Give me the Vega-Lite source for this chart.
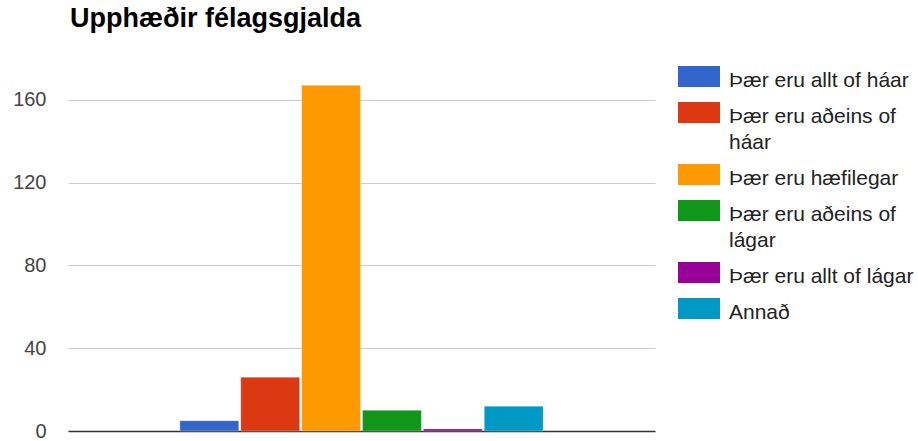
{
  "$schema": "https://vega.github.io/schema/vega-lite/v6.json",
  "width": 587,
  "height": 352,
  "autosize": {"type": "none"},
  "padding": {"left": 68, "top": 79, "right": 263, "bottom": 10},
  "background": "white",
  "config": {
    "view": {"stroke": null},
    "style": {"guide-label": {"dy": -6.5, "lineHeight": 26}}
  },
  "title": {
    "text": "Upphæðir félagsgjalda",
    "anchor": "start",
    "frame": "group",
    "font": "Liberation Sans",
    "fontSize": 27,
    "fontWeight": "bold",
    "color": "#000000",
    "baseline": "bottom",
    "offset": 25,
    "dy": 29.5,
    "dx": 2
  },
  "data": {
    "values": [
      {"hopur": "", "svar": "Þær eru allt of háar", "fjoldi": 5},
      {"hopur": "", "svar": "Þær eru aðeins of háar", "fjoldi": 26},
      {"hopur": "", "svar": "Þær eru hæfilegar", "fjoldi": 167},
      {"hopur": "", "svar": "Þær eru aðeins of lágar", "fjoldi": 10},
      {"hopur": "", "svar": "Þær eru allt of lágar", "fjoldi": 1},
      {"hopur": "", "svar": "Annað", "fjoldi": 12}
    ]
  },
  "mark": {"type": "bar", "stroke": "white", "strokeWidth": 0.5, "strokeOpacity": 0.6},
  "encoding": {
    "x": {
      "field": "hopur",
      "type": "nominal",
      "scale": {"paddingInner": 0, "paddingOuter": 0.308},
      "axis": {"labels": false, "ticks": false, "title": null, "domain": true, "domainColor": "#333333", "domainWidth": 1.5, "grid": false}
    },
    "xOffset": {
      "field": "svar",
      "type": "nominal",
      "sort": null,
      "scale": {"paddingInner": 0.033, "paddingOuter": 0}
    },
    "y": {
      "field": "fjoldi",
      "type": "quantitative",
      "scale": {"domain": [0, 170], "nice": false},
      "axis": {
        "title": null,
        "values": [0, 40, 80, 120, 160],
        "grid": true,
        "gridColor": "#cccccc",
        "domain": false,
        "ticks": false,
        "labelFont": "Liberation Sans",
        "labelFontSize": 20,
        "labelColor": "#444444",
        "labelPadding": 22,
        "labelOffset": 6.5
      }
    },
    "color": {
      "field": "svar",
      "type": "nominal",
      "scale": {
        "domain": ["Þær eru allt of háar", "Þær eru aðeins of háar", "Þær eru hæfilegar", "Þær eru aðeins of lágar", "Þær eru allt of lágar", "Annað"],
        "range": ["#3366cc", "#dc3912", "#ff9900", "#109618", "#990099", "#0099c6"]
      },
      "legend": {
        "orient": "none",
        "legendX": 610,
        "legendY": -23.5,
        "title": null,
        "symbolType": "M-1,-0.5H1V0.5H-1Z",
        "symbolSize": 1764,
        "symbolStrokeWidth": 0,
        "symbolOpacity": 1,
        "labelFont": "Liberation Sans",
        "labelFontSize": 21,
        "labelColor": "#222222",
        "labelOffset": 9,
        "labelLimit": 300,
        "labelBaseline": "top",
        "rowPadding": -4,
        "labelExpr": "datum.label == 'Þær eru aðeins of háar' ? ['Þær eru aðeins of', 'háar'] : datum.label == 'Þær eru aðeins of lágar' ? ['Þær eru aðeins of', 'lágar'] : datum.label"
      }
    }
  }
}
